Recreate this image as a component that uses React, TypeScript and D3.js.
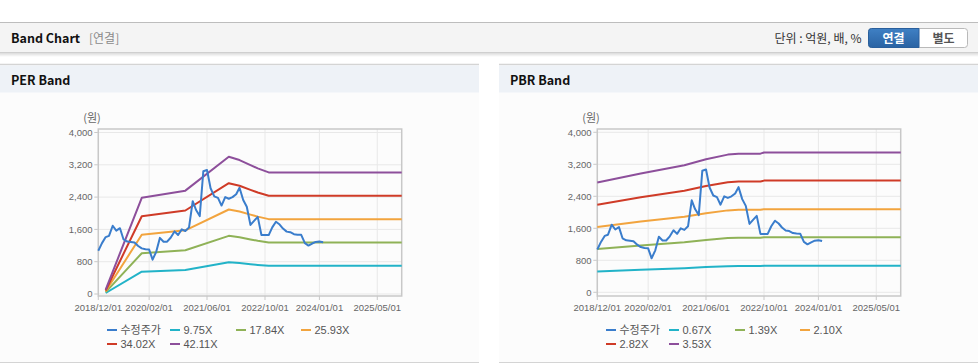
import React from "react";
import * as d3 from "d3";

// 수정주가, monthly from 2018/12
const priceStart = new Date(2018, 11, 1);
const priceValues = [
  1070, 1260, 1410, 1440, 1690, 1570, 1630, 1350, 1300, 1290, 1275, 1190, 1130,
  1110, 1100, 850, 1050, 1390, 1295, 1295, 1400, 1550, 1460, 1600, 1560, 1650,
  2300, 2080, 1930, 3040, 3070, 2620, 2420, 2380, 2190, 2400, 2360, 2400, 2470,
  2630, 2330, 2160, 1710, 1810, 1910, 1460, 1460, 1460, 1650, 1790, 1720, 1620,
  1545, 1530, 1480, 1470, 1465, 1260, 1200, 1250, 1290, 1300, 1280,
];

const axisStart = "2018-12-01";
const axisEnd = "2025-11-22";
const xTicks = ["2018-12-01", "2020-02-01", "2021-06-01", "2022-10-01", "2024-01-01", "2025-05-01"];
const yTicks = [0, 800, 1600, 2400, 3200, 4000];

// PER band
const perDates = ["2019-02-01", "2019-12-01", "2020-12-01", "2021-12-01", "2022-03-01", "2022-06-01", "2022-08-01", "2022-11-01", "2025-11-22"];
const perLabels = ["9.75X", "17.84X", "25.93X", "34.02X", "42.11X"];
const per1 = [25, 552, 593, 787, 768, 739, 721, 697, 697];
const per2 = [46, 1010, 1085, 1440, 1406, 1352, 1318, 1276, 1276];
const per3 = [67, 1468, 1577, 2093, 2043, 1966, 1916, 1854, 1854];
const per4 = [88, 1926, 2068, 2745, 2681, 2579, 2514, 2432, 2432];
const per5 = [109, 2383, 2560, 3398, 3318, 3192, 3112, 3011, 3011];

// PBR band
const pbrDates = ["2018-12-01", "2019-12-01", "2020-12-01", "2021-06-01", "2021-12-01", "2022-03-01", "2022-09-01", "2022-10-01", "2025-11-22"];
const pbrLabels = ["0.67X", "1.39X", "2.10X", "2.82X", "3.53X"];
const pbr1 = [521, 564, 603, 631, 653, 658, 658, 663, 663];
const pbr2 = [1080, 1170, 1251, 1309, 1355, 1365, 1365, 1376, 1376];
const pbr3 = [1632, 1768, 1890, 1978, 2048, 2062, 2062, 2079, 2079];
const pbr4 = [2191, 2374, 2538, 2656, 2750, 2769, 2769, 2792, 2792];
const pbr5 = [2743, 2972, 3177, 3325, 3442, 3466, 3466, 3495, 3495];

const priceColor = "#3a7dcc";
const bandColors = ["#22b3c8", "#8fb257", "#f2a43e", "#cf3b27", "#8d4f9b"];

const numFont = "'Liberation Sans', Arial, sans-serif";
const krFont = "'Noto Sans CJK KR', 'Noto Sans', sans-serif";

const parse = d3.timeParse("%Y-%m-%d");
const fmt = d3.timeFormat("%Y/%m/%d");

type Pt = [Date, number];

function BandPanel(props: {
  x0: number;
  title: string;
  dates: string[];
  labels: string[];
  bands: number[][];
  yBottom: number;
  yTop: number;
}) {
  const { x0, title, dates, labels, bands, yBottom, yTop } = props;
  const left = 98.3;
  const right = 401.7;
  const top = 129;
  const bottom = 296;
  const x = d3.scaleTime().domain([parse(axisStart)!, parse(axisEnd)!]).range([left, right]);
  const y = d3.scaleLinear().domain([0, 4000]).range([yBottom, yTop]);
  const line = d3.line<Pt>().x((d) => x(d[0])).y((d) => y(d[1]));
  const bandDates = dates.map((d) => parse(d)!);
  const pricePts: Pt[] = priceValues.map((v, i) => [d3.timeMonth.offset(priceStart, i), v]);

  const legend = [{ label: "수정주가", color: priceColor }].concat(
    labels.map((l, i) => ({ label: l, color: bandColors[i] }))
  );
  const cols = [107, 170, 236, 301];

  return (
    <g transform={`translate(${x0},0)`}>
      <rect x={0} y={64} width={479} height={298} fill="#fcfcfc" />
      <line x1={0} x2={479} y1={64.5} y2={64.5} stroke="#d4d4d4" strokeWidth={1.5} />
      <rect x={0} y={65.5} width={479} height={27} fill="#eef2f7" />
      <text x={11} y={84.5} fontFamily={krFont} fontWeight="bold" fontSize={12.5} fill="#111">
        {title}
      </text>
      <line x1={0} x2={479} y1={362.5} y2={362.5} stroke="#d4d4d4" />

      {/* grid */}
      {yTicks.map((t) => (
        <g key={"y" + t}>
          <line x1={left} x2={right} y1={y(t)} y2={y(t)} stroke="#e8e8e8" />
          <line x1={left - 4} x2={left} y1={y(t)} y2={y(t)} stroke="#c8c8c8" />
          <text x={92.5} y={y(t)} dy="0.35em" textAnchor="end" fontFamily={numFont} fontSize={9.5} fill="#666">
            {d3.format(",")(t)}
          </text>
        </g>
      ))}
      {xTicks.map((t) => {
        const d = parse(t)!;
        return (
          <g key={t}>
            <line x1={x(d)} x2={x(d)} y1={top} y2={bottom} stroke="#e8e8e8" />
            <line x1={x(d)} x2={x(d)} y1={bottom} y2={bottom + 4} stroke="#c8c8c8" />
            <text x={x(d)} y={311} textAnchor="middle" fontFamily={numFont} fontSize={9.5} fill="#666">
              {fmt(d)}
            </text>
          </g>
        );
      })}
      <rect x={left} y={top} width={right - left} height={bottom - top} fill="none" stroke="#c8c8c8" strokeWidth={1.5} />
      <text x={92} y={118} dy="0.35em" textAnchor="middle" fontFamily={krFont} fontSize={11} fill="#666">
        (원)
      </text>

      {bands.map((b, i) => (
        <path
          key={i}
          d={line(b.map((v, j) => [bandDates[j], v] as Pt)) || ""}
          fill="none"
          stroke={bandColors[i]}
          strokeWidth={2}
          strokeLinejoin="round"
        />
      ))}
      <path d={line(pricePts) || ""} fill="none" stroke={priceColor} strokeWidth={2} strokeLinejoin="round" />

      {legend.map((item, i) => {
        const row = i < 4 ? 0 : 1;
        const lx = cols[i < 4 ? i : i - 4];
        const ly = 330 + row * 14;
        return (
          <g key={item.label}>
            <line x1={lx} x2={lx + 10} y1={ly} y2={ly} stroke={item.color} strokeWidth={2} />
            <text
              x={lx + 13.5}
              y={ly}
              dy="0.35em"
              fontFamily={i === 0 ? krFont : numFont}
              fontSize={11}
              fill="#555"
            >
              {item.label}
            </text>
          </g>
        );
      })}
    </g>
  );
}

export default function App() {
  return (
    <svg
      width={978}
      height={364}
      style={{ position: "absolute", left: 0, top: 0, background: "#fff" }}
    >
      <defs>
        <linearGradient id="hdrShadow" x1="0" y1="0" x2="0" y2="1">
          <stop offset="0" stopColor="#000" stopOpacity={0.14} />
          <stop offset="1" stopColor="#000" stopOpacity={0} />
        </linearGradient>
        <linearGradient id="btnBlue" x1="0" y1="0" x2="0" y2="1">
          <stop offset="0" stopColor="#3f80c4" />
          <stop offset="1" stopColor="#2a63a3" />
        </linearGradient>
      </defs>
      <line x1={0} x2={978} y1={22.5} y2={22.5} stroke="#bdbdbd" />
      <rect x={0} y={23} width={978} height={29.5} fill="#f4f4f4" />
      <line x1={0} x2={978} y1={52.5} y2={52.5} stroke="#cfcfcf" />
      <rect x={0} y={53} width={978} height={4} fill="url(#hdrShadow)" />
      <text x={11} y={43} fontFamily={krFont} fontWeight="bold" fontSize={12.5} fill="#111">
        Band Chart
      </text>
      <text x={89} y={43} fontFamily={krFont} fontSize={12} fill="#8a8a8a">
        [연결]
      </text>
      <text x={861.5} y={42.5} textAnchor="end" fontFamily={krFont} fontSize={12} fill="#333">
        단위 : 억원, 배, %
      </text>
      <rect x={868.5} y={28.5} width={99} height={19} rx={3} fill="#fff" stroke="#b9b9b9" />
      <path d="M919,28.5 H871.5 A3,3 0 0 0 868.5,31.5 V44.5 A3,3 0 0 0 871.5,47.5 H919 Z" fill="url(#btnBlue)" stroke="#2a5f9c" />
      <text x={893.5} y={42.5} textAnchor="middle" fontFamily={krFont} fontWeight="bold" fontSize={12} fill="#fff">
        연결
      </text>
      <text x={943.5} y={42.5} textAnchor="middle" fontFamily={krFont} fontWeight="bold" fontSize={12} fill="#555">
        별도
      </text>

      <BandPanel
        x0={0}
        title="PER Band"
        dates={perDates}
        labels={perLabels}
        bands={[per1, per2, per3, per4, per5]}
        yBottom={294}
        yTop={132.5}
      />
      <BandPanel
        x0={499}
        title="PBR Band"
        dates={pbrDates}
        labels={pbrLabels}
        bands={[pbr1, pbr2, pbr3, pbr4, pbr5]}
        yBottom={292.3}
        yTop={132.3}
      />
    </svg>
  );
}
